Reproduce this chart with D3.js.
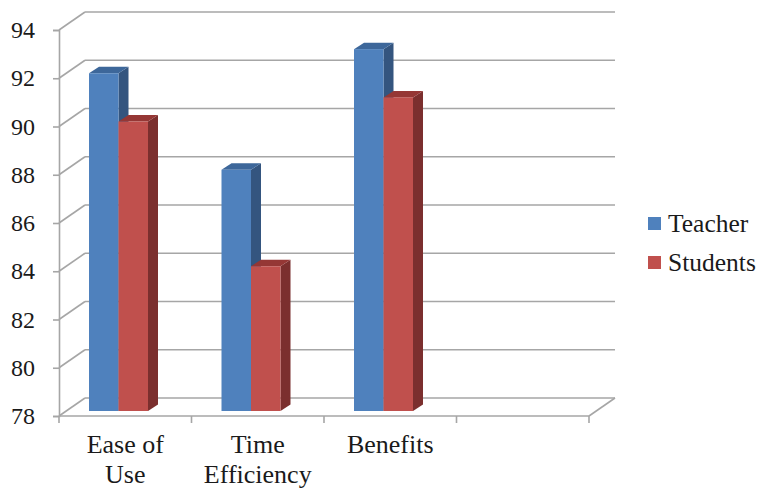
<!DOCTYPE html>
<html>
<head>
<meta charset="utf-8">
<script src="https://cdn.jsdelivr.net/npm/d3@7"></script>
<style>
  html, body { margin: 0; padding: 0; background: #fff; }
  text { font-family: "Liberation Serif", serif; fill: #1a1a1a; }
</style>
</head>
<body>
<svg id="chart" width="758" height="488"></svg>
<script>
var categories = ["Ease of Use", "Time Efficiency", "Benefits", ""];
var category_lines = [["Ease of", "Use"], ["Time", "Efficiency"], ["Benefits"], []];
var teacher = [92, 88, 93];
var students = [90, 84, 91];
var series_names = ["Teacher", "Students"];
var tick_values = [78, 80, 82, 84, 86, 88, 90, 92, 94];

var series_colors = {
  Teacher: { front: "#4f81bd", side: "#34557f", top: "#3d679a" },
  Students: { front: "#c0504d", side: "#7b2f2e", top: "#953735" }
};

var svg = d3.select("svg#chart");

// front plane of the box
var x = d3.scaleBand().domain(categories).range([59, 589]);
var y = d3.scaleLinear().domain([78, 94]).range([416, 30]);

// how far the back wall is pushed, the bars sit partway in
var wall_dx = 26, wall_dy = -18;
var bar_dy = -5;
var depth_dx = 10, depth_dy = -6.5;

var grid_color = "#a6a6a6";

//gridlines on the back wall and the diagonal up from the axis
var grid = svg.append("g").attr("fill", "none").attr("stroke", grid_color).attr("stroke-width", 1.6);

grid.selectAll("line.back")
  .data(tick_values)
  .enter().append("line")
  .attr("class", "back")
  .attr("x1", x.range()[0] + wall_dx)
  .attr("x2", x.range()[1] + wall_dx)
  .attr("y1", function(d) { return y(d) + wall_dy; })
  .attr("y2", function(d) { return y(d) + wall_dy; });

grid.selectAll("line.diag")
  .data(tick_values)
  .enter().append("line")
  .attr("class", "diag")
  .attr("x1", x.range()[0])
  .attr("x2", x.range()[0] + wall_dx)
  .attr("y1", function(d) { return y(d); })
  .attr("y2", function(d) { return y(d) + wall_dy; });

//right edge of the floor
grid.append("line")
  .attr("x1", x.range()[1]).attr("y1", y(78))
  .attr("x2", x.range()[1] + wall_dx).attr("y2", y(78) + wall_dy);

//axes
var y_axis = d3.axisLeft(y).tickValues(tick_values).tickSize(6).tickPadding(18);
var y_g = svg.append("g").attr("transform", "translate(" + x.range()[0] + ",0)").call(y_axis);
y_g.selectAll(".domain").attr("stroke", grid_color).attr("stroke-width", 1.6);
y_g.selectAll(".tick line").attr("stroke", grid_color).attr("stroke-width", 1.6);
y_g.selectAll(".tick text").attr("font-size", 24).attr("font-family", "Liberation Serif").attr("fill", "#1a1a1a");

var x_ticks = categories.map(function(d) { return x(d); }).concat([x.range()[1]]);
var x_g = svg.append("g");
x_g.append("line")
  .attr("x1", x.range()[0]).attr("x2", x.range()[1])
  .attr("y1", y(78)).attr("y2", y(78))
  .attr("stroke", grid_color).attr("stroke-width", 1.6);
x_g.selectAll("line.tick")
  .data(x_ticks)
  .enter().append("line")
  .attr("class", "tick")
  .attr("x1", function(d) { return d; })
  .attr("x2", function(d) { return d; })
  .attr("y1", y(78))
  .attr("y2", y(78) + 7)
  .attr("stroke", grid_color).attr("stroke-width", 1.6);

//category labels, wrapped by hand
var labels = svg.append("g").selectAll("text")
  .data(category_lines)
  .enter().append("text")
  .attr("font-size", 26)
  .attr("text-anchor", "middle");

labels.selectAll("tspan")
  .data(function(d, i) { return d.map(function(t) { return { t: t, cat: categories[i] }; }); })
  .enter().append("tspan")
  .attr("x", function(d) { return x(d.cat) + x.bandwidth() / 2; })
  .attr("y", function(d, i) { return 453 + i * 30; })
  .text(function(d) { return d.t; });

//bars
var group_inner = d3.scaleBand().domain(series_names).range([30, 89]);
var bar_w = group_inner.bandwidth();
var bar_base = y(78) + bar_dy;

function bar_top(v) { return y(v) + bar_dy; }

function draw_series(name, values) {
  var colors = series_colors[name];
  var g = svg.append("g").attr("class", "series");
  var left = function(d, i) { return x(categories[i]) + group_inner(name); };

  g.selectAll("path.side")
    .data(values)
    .enter().append("path")
    .attr("fill", colors.side)
    .attr("d", function(d, i) {
      var r = left(d, i) + bar_w;
      return "M" + r + "," + bar_top(d) +
        "L" + (r + depth_dx) + "," + (bar_top(d) + depth_dy) +
        "L" + (r + depth_dx) + "," + (bar_base + depth_dy) +
        "L" + r + "," + bar_base + "Z";
    });

  g.selectAll("path.top")
    .data(values)
    .enter().append("path")
    .attr("fill", colors.top)
    .attr("d", function(d, i) {
      var l = left(d, i);
      return "M" + l + "," + bar_top(d) +
        "L" + (l + depth_dx) + "," + (bar_top(d) + depth_dy) +
        "L" + (l + bar_w + depth_dx) + "," + (bar_top(d) + depth_dy) +
        "L" + (l + bar_w) + "," + bar_top(d) + "Z";
    });

  g.selectAll("rect.front")
    .data(values)
    .enter().append("rect")
    .attr("fill", colors.front)
    .attr("x", left)
    .attr("y", function(d) { return bar_top(d); })
    .attr("width", bar_w)
    .attr("height", function(d) { return bar_base - bar_top(d); });
}

draw_series("Teacher", teacher);
draw_series("Students", students);

//legend
var legend = svg.append("g").selectAll("g")
  .data(series_names)
  .enter().append("g")
  .attr("transform", function(d, i) { return "translate(648," + (217 + i * 39) + ")"; });

legend.append("rect")
  .attr("width", 13).attr("height", 13)
  .attr("fill", function(d) { return series_colors[d].front; });

legend.append("text")
  .attr("x", 20)
  .attr("y", 15)
  .attr("font-size", 25.5)
  .text(function(d) { return d; });
</script>
</body>
</html>
